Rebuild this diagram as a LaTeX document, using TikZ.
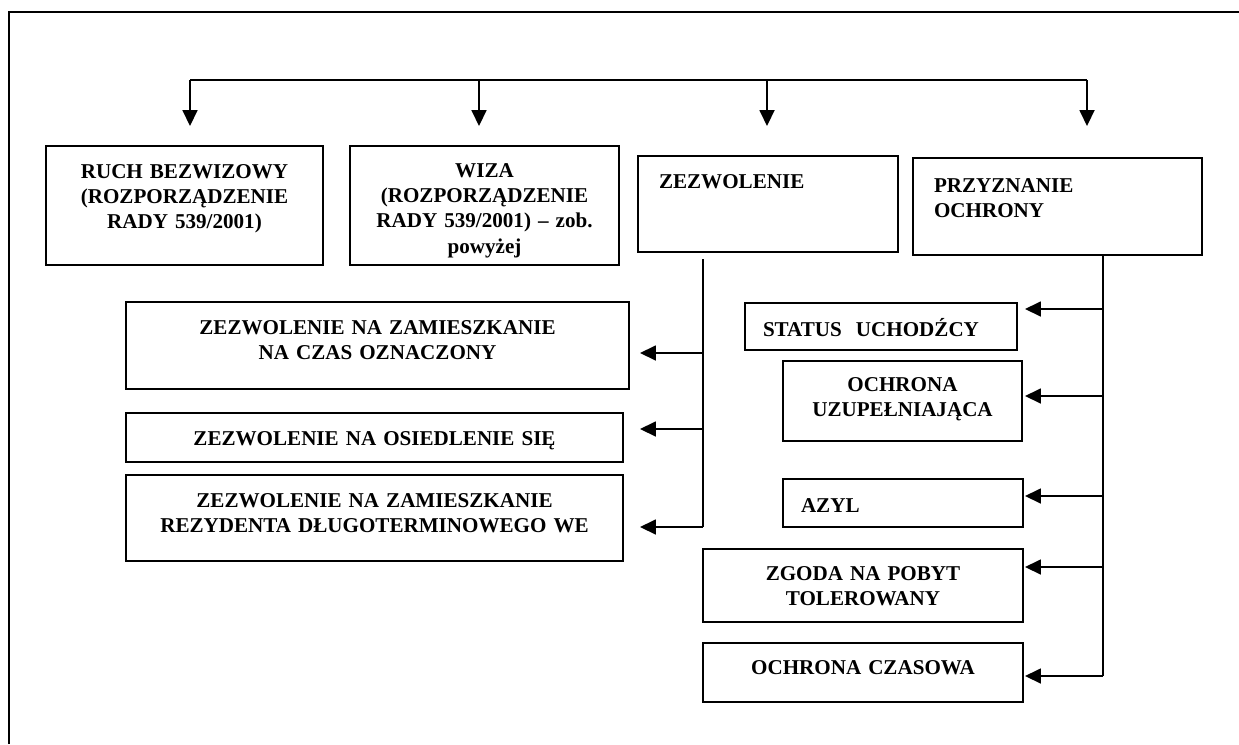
\documentclass[tikz,border=0pt]{standalone}
\usepackage{fontspec}
\setmainfont{Liberation Serif}
\usetikzlibrary{positioning,calc,arrows.meta}

\begin{document}
\begin{tikzpicture}[scale=1.0, transform shape]
 \coordinate (origo) at (0,0);
 \useasboundingbox (origo) rectangle (24.78,14.88);

\tikzstyle{box}=[draw,line width=1.1pt,inner ysep=0pt,inner xsep=0.2cm,align=center,font={\fontsize{12}{14.5}\selectfont\bfseries}]
\tikzstyle{leftbox}=[box,align=left]
\tikzstyle{line}=[line width=1pt]
\tikzstyle{arr}=[line,-{Triangle[length=0.32cm,width=0.3cm]}]

   %draw frame
    \draw[line width=1.3pt] (0.18,0) |- (24.78,14.64);

   %top row
    \node (ruch) [box,text width=5.14cm,text height=0.64cm,text depth=1.74cm] at (3.69,10.77) {RUCH BEZWIZOWY\\(ROZPORZĄDZENIE\\RADY 539/2001)};
    \node (wiza) [box,text width=4.98cm,text height=0.62cm,text depth=1.76cm] at (9.69,10.77) {WIZA\\(ROZPORZĄDZENIE\\RADY 539/2001) – zob.\\powyżej};
    \node (zezw) [leftbox,inner xsep=0.42cm,text width=4.36cm,text height=0.64cm,text depth=1.28cm] at (15.36,10.80) {ZEZWOLENIE};
    \node (przy) [leftbox,inner xsep=0.42cm,text width=4.94cm,text height=0.68cm,text depth=1.26cm] at (21.15,10.75) {PRZYZNANIE\\OCHRONY};

   %top bar with arrows
    \foreach \x [count=\i] in {3.80,9.58,15.34,21.74}
      \coordinate (bar\i) at (\x,13.28);
    \draw[line] (bar1) -- (bar4);
    \foreach \i/\t/\g in {1/ruch/0.38,2/wiza/0.38,3/zezw/0.58,4/przy/0.62}
      \draw[arr,shorten >=\g cm] (bar\i) -- (bar\i |- \t.north);

   %zezwolenie branch
    \node (czas) [box,text width=9.66cm,text height=0.64cm,text depth=1.10cm] at (7.55,7.97) {ZEZWOLENIE NA ZAMIESZKANIE\\NA CZAS OZNACZONY};
    \node (osiedl) [box,text width=9.54cm,text height=0.64cm,text depth=0.34cm] at (7.49,6.13) {ZEZWOLENIE NA OSIEDLENIE SIĘ};
    \node (rezyd) [box,text width=9.54cm,text height=0.64cm,text depth=1.08cm] at (7.49,4.52) {ZEZWOLENIE NA ZAMIESZKANIE\\REZYDENTA DŁUGOTERMINOWEGO WE};

    \coordinate (ztop) at (14.06,9.70);
    \foreach \t/\y/\g in {czas/7.82/0.2,osiedl/6.30/0.32,rezyd/4.34/0.32}{
      \coordinate (\t-in) at (14.06,\y);
      \draw[arr,shorten >=\g cm] (\t-in) -- (\t-in -| \t.east);
    }
    \draw[line] (ztop) -- (rezyd-in);

   %ochrona branch
    \node (status) [leftbox,inner xsep=0.36cm,text width=4.72cm,text height=0.66cm,text depth=0.28cm] at (17.62,8.35) {STATUS~~UCHODŹCY};
    \node (uzup) [box,text width=4.38cm,text height=0.60cm,text depth=1.00cm] at (18.05,6.86) {OCHRONA\\UZUPEŁNIAJĄCA};
    \node (azyl) [leftbox,inner xsep=0.36cm,text width=4.08cm,text height=0.66cm,text depth=0.30cm] at (18.06,4.82) {AZYL};
    \node (zgoda) [box,text width=6.00cm,text height=0.62cm,text depth=0.84cm] at (17.26,3.17) {ZGODA NA POBYT\\TOLEROWANY};
    \node (czasowa) [box,text width=6.00cm,text height=0.62cm,text depth=0.56cm] at (17.26,1.43) {OCHRONA CZASOWA};

    \foreach \t/\y/\g in {status/8.70/0.14,uzup/6.96/0.04,azyl/4.96/0.02,zgoda/3.54/0.02,czasowa/1.36/0.02}{
      \coordinate (\t-in) at (22.06,\y);
      \draw[arr,shorten >=\g cm] (\t-in) -- (\t-in -| \t.east);
    }
    \draw[line] (przy.south -| czasowa-in) -- (czasowa-in);

\end{tikzpicture}
\end{document}
